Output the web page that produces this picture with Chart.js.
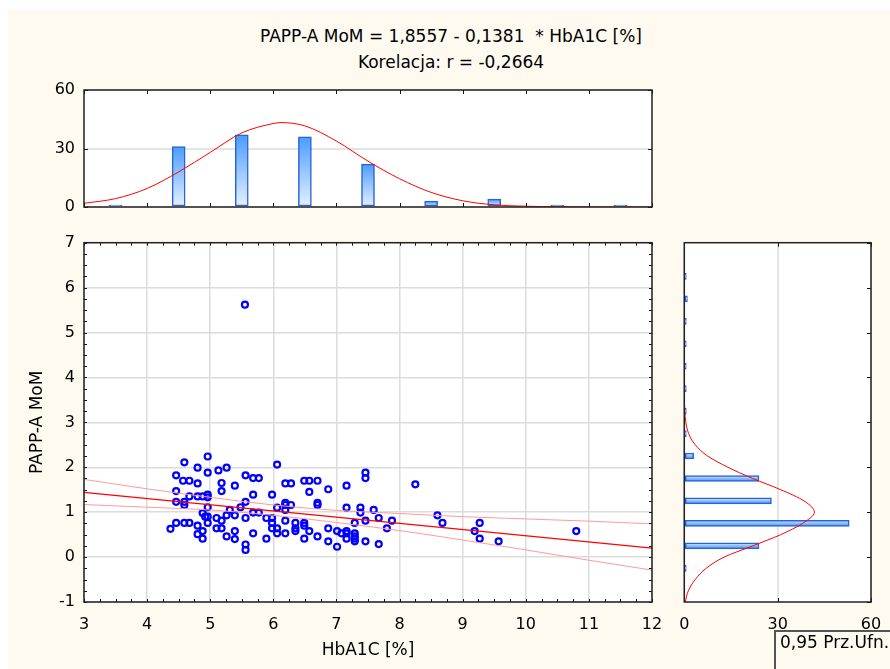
<!DOCTYPE html>
<html>
<head>
<meta charset="utf-8">
<script src="https://cdn.jsdelivr.net/npm/chart.js@4.4.1/dist/chart.umd.min.js"></script>
<style>
  body { margin: 0; background: #fff; }
  #page { position: relative; width: 890px; height: 669px; overflow: hidden; }
  #panel { position: absolute; left: 8px; top: 10px; width: 882px; height: 659px; background: #fffaf0; }
  canvas { position: absolute; }
  .title { position: absolute; left: 451px; transform: translateX(-50%); font: 17px "DejaVu Sans", sans-serif; white-space: pre; line-height: 20px; color: #000; }
  #legendBox { position: absolute; left: 774px; top: 630px; width: 130px; height: 50px; border-left: 2px solid #555; border-top: 2px solid #555; font: 17px "DejaVu Sans", sans-serif; line-height: 20px; padding-left: 4px; white-space: nowrap; color: #000; }
</style>
</head>
<body>
<div id="page">
  <div id="panel"></div>
  <div class="title" style="top:26px">PAPP-A MoM = 1,8557 - 0,1381  * HbA1C [%]</div>
  <div class="title" style="top:52px">Korelacja: r = -0,2664</div>
  <canvas id="histTop" width="670" height="140" style="left:0;top:80px"></canvas>
  <canvas id="scatter" width="670" height="441" style="left:0;top:228px"></canvas>
  <canvas id="histRight" width="220" height="441" style="left:670px;top:228px"></canvas>
  <div id="legendBox">0,95 Prz.Ufn.</div>
</div>
<script>
// HbA1C [%] and PAPP-A MoM per patient
const hba1c = [
  4.96, 4.59, 4.80, 4.96, 5.13, 5.26, 4.46, 4.57, 4.67, 4.80, 5.18, 5.39, 5.56, 4.46, 5.18, 4.46, 4.59,
  4.59, 4.67, 4.80, 4.88, 4.96, 4.96, 4.96, 5.56, 4.88, 4.92, 4.96, 4.96, 5.10, 5.18, 5.26, 5.31, 5.39,
  5.48, 5.56, 4.46, 4.59, 4.67, 4.37, 4.80, 4.88, 4.80, 4.88, 5.10, 5.18, 5.26, 5.39, 5.39, 5.56, 5.56,
  6.06, 5.68, 5.77, 6.19, 6.28, 6.49, 6.57, 6.70, 6.57, 6.87, 7.16, 7.46, 7.46, 5.68, 5.98, 6.19, 6.19,
  6.28, 6.70, 6.70, 6.06, 6.19, 5.68, 5.77, 5.89, 5.98, 5.98, 6.19, 6.35, 6.49, 6.49, 6.35, 6.35, 5.98,
  6.06, 6.06, 6.19, 6.57, 5.89, 5.68, 6.49, 6.70, 6.87, 6.87, 7.01, 7.01, 7.08, 7.16, 7.16, 7.16, 7.29,
  7.29, 7.29, 7.29, 7.29, 7.16, 7.38, 7.38, 7.46, 7.59, 7.67, 7.88, 7.80, 7.46, 7.67,
  8.25, 8.60, 8.68, 9.27, 9.19, 9.27, 9.57, 10.80, 5.55
];
const pappMoM = [
  2.24, 2.11, 1.99, 1.88, 1.93, 1.99, 1.82, 1.70, 1.70, 1.64, 1.65, 1.59, 1.82, 1.47, 1.47, 1.23, 1.23,
  1.16, 1.35, 1.35, 1.35, 1.39, 1.33, 1.11, 1.23, 0.98, 0.90, 0.90, 0.76, 0.87, 0.81, 0.93, 1.05, 0.93,
  1.11, 0.87, 0.76, 0.76, 0.76, 0.63, 0.70, 0.58, 0.51, 0.41, 0.64, 0.64, 0.46, 0.58, 0.40, 0.28, 0.16,
  2.06, 1.76, 1.76, 1.64, 1.64, 1.70, 1.70, 1.70, 1.45, 1.51, 1.59, 1.88, 1.76, 1.39, 1.39, 1.21, 1.16,
  1.16, 1.21, 1.16, 1.10, 1.05, 0.99, 0.99, 0.87, 0.87, 0.76, 0.81, 0.76, 0.76, 0.70, 0.64, 0.58, 0.64,
  0.64, 0.53, 0.53, 0.58, 0.41, 0.53, 0.41, 0.46, 0.64, 0.35, 0.58, 0.23, 0.53, 0.58, 0.53, 0.41, 0.53,
  0.46, 0.41, 0.35, 0.76, 1.10, 1.10, 0.99, 0.81, 1.05, 0.87, 0.81, 0.64, 0.35, 0.29,
  1.62, 0.93, 0.76, 0.76, 0.58, 0.41, 0.35, 0.58, 5.62
];

// regression line and 0.95 confidence band
const fitX = [3, 12];
const fitY = [1.44, 0.20];
const bandX = [3, 4, 5, 6, 7, 8, 9, 10, 11, 12];
const bandUpper = [1.73, 1.52, 1.33, 1.16, 1.04, 0.97, 0.90, 0.85, 0.80, 0.74];
const bandLower = [1.17, 1.11, 1.05, 0.93, 0.77, 0.59, 0.38, 0.16, -0.07, -0.29];

// HbA1C histogram (top) and its normal curve
const hbaBins = [3.5, 4.5, 5.5, 6.5, 7.5, 8.5, 9.5, 10.5, 11.5];
const hbaCounts = [0, 31, 37, 36, 22, 3, 4, 1, 0];
const hbaCurveX = [3, 3.5, 4, 4.5, 5, 5.5, 6, 6.12, 6.5, 7, 7.5, 8, 8.5, 9, 9.5, 10, 10.5, 11, 12];
const hbaCurveN = [1.9, 4.3, 9.5, 18, 28, 38, 42.8, 43.3, 41.6, 33.8, 23.5, 14.5, 7.5, 3.2, 1.1, 0.4, 0.1, 0, 0];

// PAPP-A MoM histogram (right) and its normal curve
const pappBins = [-0.25, 0.25, 0.75, 1.25, 1.75, 2.25, 2.75, 3.25, 3.75, 4.25, 4.75, 5.25, 5.75, 6.25];
const pappCounts = [0, 24, 53, 28, 24, 3, 0, 0, 0, 0, 0, 0, 1, 0];
const pappCurveY = [-1, -0.75, -0.5, -0.25, 0, 0.25, 0.5, 0.75, 1, 1.25, 1.5, 1.75, 2, 2.25, 2.5, 2.75, 3, 3.5, 4, 7];
const pappCurveN = [0.3, 1.3, 3.5, 7, 12.8, 22, 31, 38, 41.8, 38.5, 31, 22, 14, 7.5, 3.5, 1.4, 0.5, 0.05, 0, 0];

// tick labels
const xTicks = [3, 4, 5, 6, 7, 8, 9, 10, 11, 12];
const yTicks = [-1, 0, 1, 2, 3, 4, 5, 6, 7];
const countTicks = [0, 30, 60];

Chart.defaults.font.family = '"DejaVu Sans", sans-serif';
Chart.defaults.font.size = 16;
Chart.defaults.color = '#000';

const GRID = '#dcdcdc';
const NO_TICK = 'rgba(0,0,0,0)';

function setTicks(values) {
  return (scale) => { scale.ticks = values.map((v) => ({ value: v })); };
}

// white plot area, inward tick marks and the frame
function makeFrame(marks) {
  return {
    id: 'frame',
    beforeDraw(chart) {
      const { ctx, chartArea: a } = chart;
      ctx.save();
      ctx.fillStyle = '#fff';
      ctx.fillRect(a.left, a.top, a.right - a.left, a.bottom - a.top);
      ctx.restore();
    },
    afterDatasetsDraw(chart) {
      const { ctx, chartArea: a } = chart;
      ctx.save();
      ctx.strokeStyle = '#111';
      ctx.lineWidth = 1;
      marks.forEach((m) => {
        const s = chart.scales[m.scale];
        const n = Math.round((s.max - s.min) / m.step);
        for (let i = 0; i <= n; i++) {
          const p = Math.round(s.getPixelForValue(s.min + i * m.step)) + 0.5;
          ctx.beginPath();
          m.sides.forEach((side) => {
            if (side === 'top') { ctx.moveTo(p, a.top); ctx.lineTo(p, a.top + m.len); }
            if (side === 'bottom') { ctx.moveTo(p, a.bottom); ctx.lineTo(p, a.bottom - m.len); }
            if (side === 'left') { ctx.moveTo(a.left, p); ctx.lineTo(a.left + m.len, p); }
            if (side === 'right') { ctx.moveTo(a.right, p); ctx.lineTo(a.right - m.len, p); }
          });
          ctx.stroke();
        }
      });
      ctx.strokeStyle = '#222';
      ctx.lineWidth = 1.5;
      ctx.strokeRect(a.left, a.top, a.right - a.left, a.bottom - a.top);
      ctx.restore();
    },
  };
}

const common = {
  responsive: false,
  animation: false,
  devicePixelRatio: 1,
  plugins: { legend: { display: false }, tooltip: { enabled: false } },
};

// Top histogram
new Chart(document.getElementById('histTop'), {
  type: 'bar',
  data: {
    datasets: [
      {
        type: 'line',
        data: hbaCurveX.map((x, i) => ({ x: x, y: hbaCurveN[i] })),
        borderColor: '#ff0000',
        borderWidth: 1,
        pointRadius: 0,
        cubicInterpolationMode: 'monotone',
      },
      {
        type: 'bar',
        data: hbaBins.map((x, i) => ({ x: x, y: hbaCounts[i] })),
        barThickness: 13,
        minBarLength: 2,
        borderColor: '#2a62d8',
        borderWidth: 1.5,
        borderSkipped: false,
        backgroundColor: (c) => {
          const chart = c.chart;
          if (!chart.chartArea || c.type !== 'data') return '#8ec3ff';
          const ys = chart.scales.y;
          const top = ys.getPixelForValue(c.raw.y);
          const base = ys.getPixelForValue(0);
          if (base - top < 2) return '#5aa6ff';
          const g = chart.ctx.createLinearGradient(0, top, 0, base);
          g.addColorStop(0, '#4a9dff');
          g.addColorStop(1, '#e6f1ff');
          return g;
        },
      },
    ],
  },
  options: {
    ...common,
    layout: { padding: { top: 10, right: 18, bottom: 0, left: 0 } },
    scales: {
      x: {
        type: 'linear', min: 3, max: 12, offset: false,
        grid: { display: false }, ticks: { display: false }, border: { display: false },
        afterFit: (s) => { s.height = 13; },
      },
      y: {
        type: 'linear', min: 0, max: 60,
        afterBuildTicks: setTicks(countTicks),
        grid: { color: '#e4e4e4', lineWidth: 2, drawTicks: true, tickLength: 9, tickColor: NO_TICK },
        border: { display: false },
        ticks: { padding: 0 },
        afterFit: (s) => { s.width = 84; },
      },
    },
  },
  plugins: [makeFrame([
    { scale: 'x', step: 1, len: 4, sides: ['top', 'bottom'] },
    { scale: 'y', step: 30, len: 4, sides: ['left', 'right'] },
  ])],
});

// Scatter with regression line
new Chart(document.getElementById('scatter'), {
  type: 'scatter',
  data: {
    datasets: [
      {
        data: fitX.map((x, i) => ({ x: x, y: fitY[i] })),
        showLine: true, borderColor: '#ff0000', borderWidth: 1.3, pointRadius: 0,
      },
      {
        data: bandX.map((x, i) => ({ x: x, y: bandUpper[i] })),
        showLine: true, borderColor: '#ff9a9a', borderWidth: 1, pointRadius: 0,
        cubicInterpolationMode: 'monotone',
      },
      {
        data: bandX.map((x, i) => ({ x: x, y: bandLower[i] })),
        showLine: true, borderColor: '#ff9a9a', borderWidth: 1, pointRadius: 0,
        cubicInterpolationMode: 'monotone',
      },
      {
        data: hba1c.map((x, i) => ({ x: x, y: pappMoM[i] })),
        pointRadius: 3,
        borderWidth: 2.2,
        borderColor: '#0000ff',
        pointBorderColor: '#0000ff',
        pointBackgroundColor: 'rgba(0,0,0,0)',
      },
    ],
  },
  options: {
    ...common,
    layout: { padding: { top: 14.7, right: 18, bottom: 0, left: 0 } },
    scales: {
      x: {
        type: 'linear', min: 3, max: 12,
        afterBuildTicks: setTicks(xTicks),
        grid: { color: GRID, lineWidth: 1.5, drawTicks: true, tickLength: 13, tickColor: NO_TICK },
        border: { display: false },
        ticks: { padding: 0 },
        title: { display: true, text: 'HbA1C [%]', font: { size: 17 }, padding: { top: 0, bottom: 8 } },
        afterFit: (s) => { s.height = 67; },
      },
      y: {
        type: 'linear', min: -1, max: 7,
        afterBuildTicks: setTicks(yTicks),
        grid: { color: GRID, lineWidth: 1.5, drawTicks: true, tickLength: 9, tickColor: NO_TICK },
        border: { display: false },
        ticks: { padding: 0 },
        title: { display: true, text: 'PAPP-A MoM', font: { size: 17 }, padding: { top: 27, bottom: 0 } },
        afterFit: (s) => { s.width = 84; },
      },
    },
  },
  plugins: [makeFrame([
    { scale: 'x', step: 0.25, len: 3, sides: ['top', 'bottom'] },
    { scale: 'y', step: 0.25, len: 3, sides: ['left', 'right'] },
  ])],
});

// Right histogram
new Chart(document.getElementById('histRight'), {
  type: 'bar',
  data: {
    datasets: [
      {
        type: 'line',
        indexAxis: 'y',
        data: pappCurveY.map((y, i) => ({ x: pappCurveN[i], y: y })),
        borderColor: '#ff0000',
        borderWidth: 1,
        pointRadius: 0,
        cubicInterpolationMode: 'monotone',
      },
      {
        type: 'bar',
        indexAxis: 'y',
        data: pappBins.map((y, i) => ({ x: pappCounts[i], y: y })),
        barThickness: 6,
        minBarLength: 2,
        borderColor: '#2a62d8',
        borderWidth: 1.5,
        borderSkipped: false,
        backgroundColor: (c) => {
          const chart = c.chart;
          if (!chart.chartArea || c.type !== 'data') return '#8ec3ff';
          const p = chart.scales.y.getPixelForValue(c.raw.y);
          const g = chart.ctx.createLinearGradient(0, p - 3, 0, p + 3);
          g.addColorStop(0, '#d8ebff');
          g.addColorStop(1, '#3f8ff0');
          return g;
        },
      },
    ],
  },
  options: {
    ...common,
    indexAxis: 'y',
    layout: { padding: { top: 14.7, right: 19, bottom: 0, left: 0 } },
    scales: {
      y: {
        type: 'linear', min: -1, max: 7, offset: false,
        grid: { display: false }, ticks: { display: false }, border: { display: false },
        afterFit: (s) => { s.width = 14.3; },
      },
      x: {
        type: 'linear', min: 0, max: 60,
        afterBuildTicks: setTicks(countTicks),
        grid: { color: '#e4e4e4', lineWidth: 2, drawTicks: true, tickLength: 13, tickColor: NO_TICK },
        border: { display: false },
        ticks: { padding: 0 },
        afterFit: (s) => { s.height = 67; },
      },
    },
  },
  plugins: [makeFrame([
    { scale: 'y', step: 1, len: 4, sides: ['right'] },
    { scale: 'x', step: 30, len: 4, sides: ['top', 'bottom'] },
  ])],
});
</script>
</body>
</html>
